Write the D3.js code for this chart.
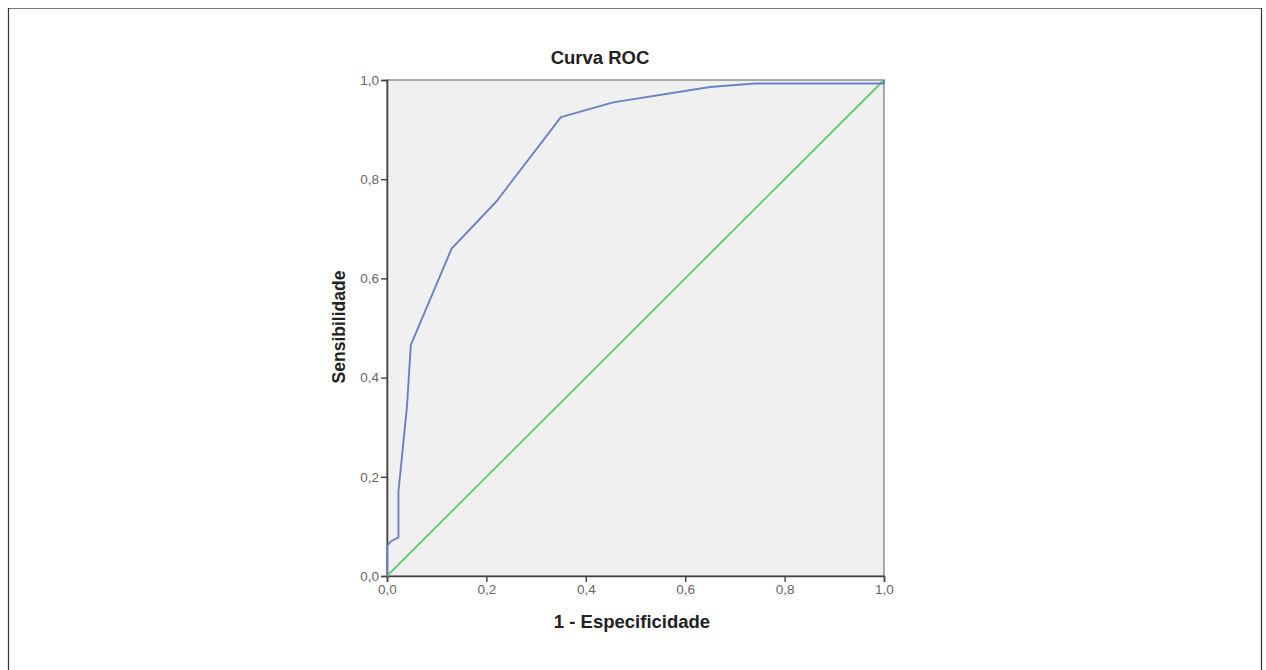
<!DOCTYPE html>
<html>
<head>
<meta charset="utf-8">
<script src="https://cdn.jsdelivr.net/npm/d3@7"></script>
<style>
  body { margin: 0; background: #fff; }
  svg { display: block; font-family: "Liberation Sans", Arial, sans-serif; }
</style>
</head>
<body>
<div id="chart"></div>
<script>
// ROC curve points (1 - especificidade, sensibilidade)
const fpr = [0, 0, 0.008, 0.023, 0.023, 0.04, 0.048, 0.13, 0.22, 0.35, 0.455, 0.65, 0.74, 1, 1];
const tpr = [0, 0.06, 0.07, 0.078, 0.17, 0.34, 0.466, 0.66, 0.755, 0.925, 0.955, 0.986, 0.993, 0.993, 1];
// reference diagonal
const refX = [0, 1];
const refY = [0, 1];
const tickValues = [0, 0.2, 0.4, 0.6, 0.8, 1.0];
const tickLabels = ['0,0', '0,2', '0,4', '0,6', '0,8', '1,0'];

const width = 1266, height = 670;
const svg = d3.select('#chart').append('svg')
  .attr('width', width)
  .attr('height', height);

// outer frame
svg.append('line').attr('x1', 8).attr('x2', 1262).attr('y1', 8.5).attr('y2', 8.5)
  .attr('stroke', '#777').attr('stroke-width', 1.2);
svg.append('line').attr('x1', 8.5).attr('x2', 8.5).attr('y1', 8).attr('y2', 680)
  .attr('stroke', '#333').attr('stroke-width', 1.2);
svg.append('line').attr('x1', 1261.5).attr('x2', 1261.5).attr('y1', 8).attr('y2', 680)
  .attr('stroke', '#333').attr('stroke-width', 1.2);

const plotLeft = 387, plotRight = 884, plotTop = 80, plotBottom = 576;
const x = d3.scaleLinear().domain([0, 1]).range([plotLeft, plotRight]);
const y = d3.scaleLinear().domain([0, 1]).range([plotBottom, plotTop]);

// plot background
svg.append('rect')
  .attr('x', plotLeft).attr('y', plotTop)
  .attr('width', plotRight - plotLeft).attr('height', plotBottom - plotTop)
  .attr('fill', '#f0f0f0')
  .attr('stroke', '#888').attr('stroke-width', 1.4);

const fmt = d => tickLabels[tickValues.indexOf(d)];

const xAxis = svg.append('g')
  .attr('transform', `translate(0,${plotBottom})`)
  .call(d3.axisBottom(x).tickValues(tickValues).tickFormat(fmt).tickSize(6).tickPadding(2));
const yAxis = svg.append('g')
  .attr('transform', `translate(${plotLeft},0)`)
  .call(d3.axisLeft(y).tickValues(tickValues).tickFormat(fmt).tickSize(6).tickPadding(2));

[xAxis, yAxis].forEach(g => {
  g.select('.domain').attr('stroke', '#444').attr('stroke-width', 1.6);
  g.selectAll('.tick line').attr('stroke', '#444').attr('stroke-width', 1.4);
  g.selectAll('.tick text').attr('fill', '#666').attr('font-size', 13.5)
    .attr('font-family', '"Liberation Sans Narrow", "Liberation Sans", Arial, sans-serif');
});

// diagonal reference line
svg.append('path')
  .datum(refX.map((d, i) => [d, refY[i]]))
  .attr('fill', 'none')
  .attr('stroke', '#62c96c')
  .attr('stroke-width', 1.8)
  .attr('d', d3.line().x(d => x(d[0])).y(d => y(d[1])));

// ROC curve
svg.append('path')
  .datum(fpr.map((d, i) => [d, tpr[i]]))
  .attr('fill', 'none')
  .attr('stroke', '#6b80c6')
  .attr('stroke-width', 1.9)
  .attr('stroke-linejoin', 'round')
  .attr('d', d3.line().x(d => x(d[0])).y(d => y(d[1])));

// titles
svg.append('text')
  .attr('x', 600).attr('y', 64)
  .attr('text-anchor', 'middle')
  .attr('font-size', 18.5).attr('font-weight', 'bold').attr('fill', '#222')
  .text('Curva ROC');

svg.append('text')
  .attr('x', 632).attr('y', 628)
  .attr('text-anchor', 'middle')
  .attr('font-size', 18.5).attr('font-weight', 'bold').attr('fill', '#222')
  .text('1 - Especificidade');

svg.append('text')
  .attr('transform', `translate(345,327) rotate(-90)`)
  .attr('text-anchor', 'middle')
  .attr('font-size', 17.5).attr('font-weight', 'bold').attr('fill', '#222')
  .text('Sensibilidade');
</script>
</body>
</html>
